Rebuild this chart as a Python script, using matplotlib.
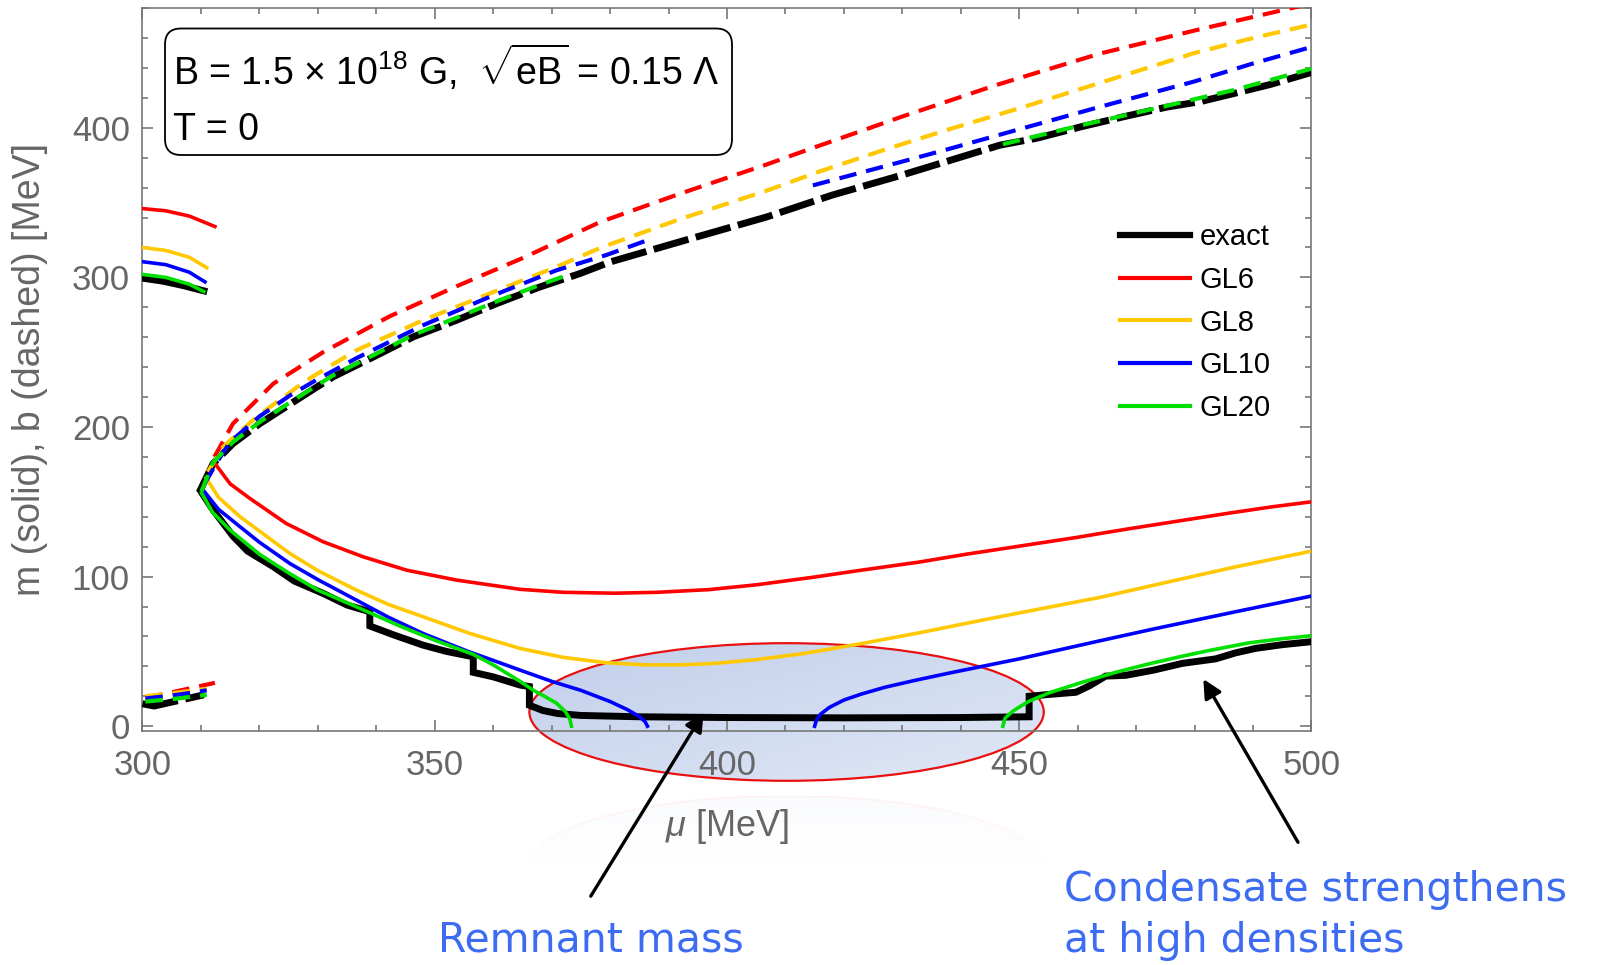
import numpy as np
import matplotlib
matplotlib.use("Agg")
import matplotlib.pyplot as plt
from matplotlib.patches import Ellipse, FancyBboxPatch
from matplotlib.lines import Line2D
from matplotlib.ticker import MultipleLocator
from matplotlib.transforms import IdentityTransform

plt.rcParams['font.family'] = ['Liberation Sans', 'DejaVu Sans']
plt.rcParams['mathtext.fontset'] = 'custom'
plt.rcParams['mathtext.rm'] = 'Liberation Sans'
plt.rcParams['mathtext.it'] = 'Liberation Sans:italic'

# ---- exact ----
ex_top_mu = [300, 303.5, 307, 310.5]
ex_top_m = [299.5, 297.5, 294.5, 291]
ex_low_mu = [300, 302, 306, 310.5]
ex_low_b = [15, 13.5, 17, 21]
ex_m_mu = [310, 312, 315.5, 318, 322.4, 326, 330.9, 335, 338.9, 338.9, 343, 348, 352,
           356.6, 356.6, 360, 364.6, 366.2, 366.2, 368.5, 371, 375, 385, 400, 420, 440,
           451.7, 451.7, 455, 459.7, 462, 464.8, 468.2, 473, 477.9, 483.6, 487, 490.4,
           495, 500]
ex_m = [157, 145, 127, 117, 106.6, 97, 88.8, 81, 76.5, 67, 61, 54.2, 50,
        46.4, 36, 33, 27.5, 26.5, 14, 10.5, 8.5, 7.2, 6.3, 5.8, 5.6, 5.8,
        6.3, 20, 21.2, 22.7, 27, 33.5, 34, 37.5, 42, 45, 49, 52,
        54.5, 56.5]
ex_b_mu = [309.8, 312.1, 315.5, 320.1, 328.1, 332.6, 339.5, 346.3, 353.7, 360.6, 368,
           374.8, 380, 393, 406.8, 418, 429.6, 438, 446.7, 453, 460.4, 468, 475.2, 481,
           486.6, 493, 500]
ex_b = [157, 175.6, 189, 202.3, 222.4, 233.5, 246.8, 260.2, 271.3, 282.5, 293.6,
        302.5, 310.3, 325, 340.4, 355, 368, 378, 388.4, 393, 400.5, 407.5, 413.8, 417.5,
        422.8, 429, 437]

# ---- GL6 ----
red_top_mu = [300, 304, 308, 312.4]
red_top_m = [346, 344.5, 341, 334]
red_low_mu = [300.5, 306, 312.4]
red_low_b = [19, 23.5, 29]
red_m_mu = [312.4, 315, 318.4, 324.6, 330.9, 337.8, 345.2, 353.7, 364.6, 372, 380.8,
            388, 396.9, 405, 414.8, 423, 432.7, 441, 450.6, 460, 468.5, 477, 486, 493, 500]
red_m = [175.6, 162, 152.2, 135.5, 123.3, 113.2, 104.3, 97.7, 91.5, 89.5, 88.9,
         89.5, 91.3, 94.5, 99.6, 104.3, 109.6, 115, 120.7, 126.3, 131.8, 137, 142.5, 146.5, 150]
red_b_mu = [312.3, 315.5, 322.4, 330.9, 342.3, 353.7, 365.1, 378.3, 392, 406.8, 413.6,
            429.6, 446, 463.8, 480, 496, 500]
red_b = [180, 202.3, 229, 250, 274, 294, 313, 337, 356, 375.5, 385,
         407, 428.5, 449.6, 465, 479.5, 483]

# ---- GL8 ----
yel_top_mu = [300, 304, 308, 311]
yel_top_m = [320, 318, 313.5, 306.5]
yel_low_mu = [300.5, 306, 311]
yel_low_b = [20, 22.5, 25]
yel_m_mu = [310.9, 313, 316.7, 320, 325.2, 330, 336.6, 342, 348, 356, 364.6, 372, 379.2,
            386, 392, 398, 405, 413, 422.7, 433, 443.3, 453, 463.7, 475, 487, 500]
yel_m = [166, 153, 140, 130.5, 115.5, 104, 91, 81.5, 73.2, 62, 52, 46, 42.5,
         41, 41, 42, 44.5, 48.5, 55, 62.5, 70.6, 78, 86, 96, 106.5, 117]
yel_b_mu = [311.2, 313.8, 319.5, 328.1, 336.6, 348, 359.4, 370.8, 378.5, 392, 406.8, 416,
            426.7, 438, 450, 463.8, 480, 490, 500]
yel_b = [170, 186.7, 206.7, 231.3, 251.3, 271.3, 289.2, 307, 320, 339, 358, 371,
         385, 399, 413, 430, 450, 460, 469]

# ---- GL10 ----
blu_top_mu = [300, 304, 308, 310.7]
blu_top_m = [310.5, 308.5, 303.5, 297]
blu_low_mu = [300.5, 306, 311]
blu_low_b = [18.5, 21, 24]
blu_m1_mu = [310.4, 313, 316.7, 320, 325.2, 330, 336.6, 342, 348, 355.7, 360, 364.6, 370,
             375, 380, 383, 385, 386, 386.4]
blu_m1 = [157.8, 145, 133.3, 123, 108.8, 98, 84.3, 73, 62, 50, 44, 37.5, 30,
          24, 16.5, 11, 6.5, 3, 0]
blu_m2_mu = [415, 415.3, 416, 417.5, 420, 423, 427, 432, 438, 450, 463.7, 473, 487, 500]
blu_m2 = [0, 4, 8, 12.5, 17.5, 21.5, 26, 30.5, 35.5, 45, 57, 65, 76.5, 87]
blu_b1_mu = [310.6, 313, 315, 320, 325.2, 330, 336.6, 348, 359.4, 370.8, 379.4, 386.5]
blu_b1 = [162, 178, 190, 207, 221, 232, 246, 268, 287, 304.7, 315, 325]
blu_b2_mu = [414.7, 429.6, 438.1, 450, 463.8, 480, 490, 500]
blu_b2 = [361.5, 377, 386, 399, 414, 431, 443, 454]

# ---- GL20 ----
grn_top_mu = [300, 304, 308, 310.5]
grn_top_m = [302, 300, 295.5, 290.5]
grn_low_mu = [300.5, 306, 311]
grn_low_b = [16.5, 18.5, 21]
grn_m1_mu = [310.1, 312, 315, 320, 325.2, 330, 336.6, 344, 350, 356.6, 360, 364.6, 366.9,
             369, 370.8, 372.3, 373.1, 373.4]
grn_m1 = [156, 143, 131, 115, 102, 91, 79.8, 67, 57.5, 48, 41, 30, 24,
          19.5, 15.5, 10, 5, 0]
grn_m2_mu = [447.2, 447.6, 448.9, 450.5, 451.7, 455.1, 460.8, 466.5, 472, 477.9, 483,
             489.3, 495, 500]
grn_m2 = [0, 5.5, 10, 14, 16.7, 22.3, 29.4, 36, 41.5, 46.8, 51, 55.7, 58.5, 60.5]
grn_b1_mu = [310.1, 312.1, 315.5, 320.1, 328.1, 332.6, 339.5, 346.3, 353.7, 360.6, 368, 373.4]
grn_b1 = [157, 176.5, 190, 203.5, 223.5, 234.5, 248, 261.5, 273, 284, 295, 302.5]
grn_b2_mu = [447.2, 460.4, 475, 487, 500]
grn_b2 = [389, 401.5, 414.5, 425.5, 439.5]

labels = ['exact', 'GL6', 'GL8', 'GL10', 'GL20']
colors = ['black', '#ff0000', '#ffc800', '#0000ff', '#00e000']

fig = plt.figure(figsize=(15.97, 9.65), dpi=100)
ax = fig.add_axes([0.0892, 0.2428, 0.732, 0.7488], zorder=1)
ax.patch.set_visible(False)

solid_lw = 2.6
dash_lw = 3.0
cdash = (4.2, 2.4)

# exact
ax.plot(ex_top_mu, ex_top_m, color='black', lw=5, zorder=3)
ax.plot(ex_m_mu, ex_m, color='black', lw=5, zorder=3, solid_joinstyle='miter')
ax.plot(ex_low_mu, ex_low_b, color='black', lw=5, dashes=(5.2, 1.1), zorder=3)
ax.plot(ex_b_mu, ex_b, color='black', lw=5, dashes=(5.2, 1.1), zorder=3)

series = [
    (colors[1], [(red_top_mu, red_top_m), (red_m_mu, red_m)],
     [(red_low_mu, red_low_b), (red_b_mu, red_b)]),
    (colors[2], [(yel_top_mu, yel_top_m), (yel_m_mu, yel_m)],
     [(yel_low_mu, yel_low_b), (yel_b_mu, yel_b)]),
    (colors[3], [(blu_top_mu, blu_top_m), (blu_m1_mu, blu_m1), (blu_m2_mu, blu_m2)],
     [(blu_low_mu, blu_low_b), (blu_b1_mu, blu_b1), (blu_b2_mu, blu_b2)]),
    (colors[4], [(grn_top_mu, grn_top_m), (grn_m1_mu, grn_m1), (grn_m2_mu, grn_m2)],
     [(grn_low_mu, grn_low_b), (grn_b1_mu, grn_b1), (grn_b2_mu, grn_b2)]),
]
for k, (col, solids, dashed) in enumerate(series):
    for xs, ys in solids:
        ax.plot(xs, ys, color=col, lw=solid_lw, zorder=4 + k)
    for xs, ys in dashed:
        ax.plot(xs, ys, color=col, lw=dash_lw, dashes=cdash, zorder=4 + k)

ax.set_xlim(300, 500)
ax.set_ylim(-3, 480)
ax.xaxis.set_major_locator(MultipleLocator(50))
ax.xaxis.set_minor_locator(MultipleLocator(10))
ax.yaxis.set_major_locator(MultipleLocator(100))
ax.yaxis.set_minor_locator(MultipleLocator(20))
ax.tick_params(which='both', direction='in', top=True, right=True, color='#777777',
               width=1.2, labelsize=25, labelcolor='#666666')
ax.tick_params(which='major', length=8)
ax.tick_params(which='minor', length=4.5)
ax.tick_params(axis='x', pad=13)
ax.tick_params(axis='y', pad=9)
for sp in ax.spines.values():
    sp.set_color('#777777')
    sp.set_linewidth(1.2)

ax.set_ylabel('m (solid), b (dashed) [MeV]', fontsize=27, color='#666666')
ax.yaxis.set_label_coords(-0.081, 0.5)
ax.set_xlabel(r'$\mu$ [MeV]', fontsize=26, color='#666666')
ax.xaxis.set_label_coords(0.5, -0.106)

# highlighted region: gradient-filled ellipse behind the curves
ell_c = (410.2, 9.5)
ell_w, ell_h = 88, 92


def to_fig(x, y):
    return fig.transFigure.inverted().transform(ax.transData.transform((x, y)))


def overlay(cx, cy):
    x0, y0 = to_fig(cx - ell_w / 2, cy - ell_h / 2)
    x1, y1 = to_fig(cx + ell_w / 2, cy + ell_h / 2)
    ov = fig.add_axes([x0, y0, x1 - x0, y1 - y0], zorder=0)
    ov.set_axis_off()
    ov.set_xlim(0, 1)
    ov.set_ylim(0, 1)
    return ov


n = 400
u, v = np.meshgrid(np.linspace(-1, 1, n), np.linspace(1, -1, n))
t = np.clip((u - v) / 4 + 0.5, 0, 1)
c0 = np.array([0.76, 0.81, 0.92])
c1 = np.array([0.88, 0.91, 0.965])
img = c0 * (1 - t[..., None]) + c1 * t[..., None]
ov = overlay(*ell_c)
im = ov.imshow(img, extent=(0, 1, 0, 1), aspect='auto', interpolation='bilinear')
im.set_clip_path(Ellipse((0.5, 0.5), 1, 1, transform=ov.transData))
ax.add_patch(Ellipse(ell_c, ell_w, ell_h, facecolor='none', edgecolor='#e81010',
                     lw=1.6, zorder=1.2, clip_on=False))

# faint reflection below it
refl_c = (410.2, -92.5)
r = np.sqrt(u ** 2 + v ** 2)
fade = np.clip((v + 0.1) / 1.1, 0, 1) ** 1.5
rgba = np.zeros((n, n, 4))
rgba[..., :3] = [0.86, 0.89, 0.96]
rgba[..., 3] = np.where(r < 1, 0.14 * fade, 0)
ring = np.abs(r - 0.99) < 0.012
rgba[ring, :3] = [1.0, 0.65, 0.65]
rgba[ring, 3] = 0.18 * fade[ring]
ov2 = overlay(*refl_c)
ov2.imshow(rgba, extent=(0, 1, 0, 1), aspect='auto', interpolation='bilinear')

# legend
handles = [Line2D([], [], color=c, lw=(4.5 if c == 'black' else 3)) for c in colors]
ax.legend(handles, labels, loc='upper left', bbox_to_anchor=(0.8365, 0.702),
          frameon=False, fontsize=21, handlelength=2.4, handletextpad=0.33,
          labelspacing=0.5, borderpad=0, borderaxespad=0)

# parameter box
box = FancyBboxPatch((165, 965 - 155), 567, 126.5,
                     boxstyle='round,pad=0,rounding_size=16',
                     transform=IdentityTransform(), facecolor='white',
                     edgecolor='black', lw=1.3, zorder=10)
fig.patches.append(box)
fig.text(0.1083, 0.9124, r'B = 1.5 × 10$^{18}$ G,  $\sqrt{\mathrm{eB}}$ = 0.15 Λ',
         fontsize=27, va='baseline', zorder=11)
fig.text(0.1083, 0.8554, 'T = 0', fontsize=27, va='baseline', zorder=11)

# annotations
arrow = dict(arrowstyle='-|>', lw=2.4, color='black', mutation_scale=28,
             shrinkA=0, shrinkB=0)
ax.annotate('', xy=(396, 9), xytext=(376.7, -113.6), arrowprops=arrow,
            annotation_clip=False, zorder=12)
ax.annotate('', xy=(481.5, 31.5), xytext=(497.7, -77.6), arrowprops=arrow,
            annotation_clip=False, zorder=12)

note_col = '#3d6cf2'
fig.text(438 / 1597, 1 - 952 / 965, 'Remnant mass', fontsize=29.5, color=note_col,
         family='DejaVu Sans', va='baseline')
fig.text(1064 / 1597, 1 - 901 / 965, 'Condensate strengthens', fontsize=29.5,
         color=note_col, family='DejaVu Sans', va='baseline')
fig.text(1064 / 1597, 1 - 952 / 965, 'at high densities', fontsize=29.5,
         color=note_col, family='DejaVu Sans', va='baseline')

fig.savefig('out.png', dpi=100)
